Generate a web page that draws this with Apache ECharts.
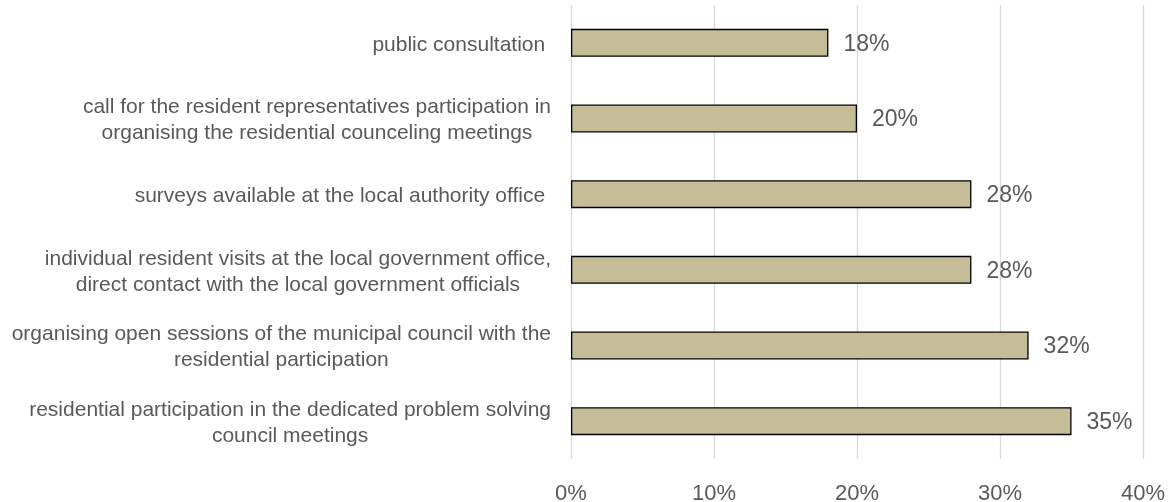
<!DOCTYPE html>
<html>
<head>
<meta charset="utf-8">
<script src="https://cdn.jsdelivr.net/npm/echarts@6/dist/echarts.min.js"></script>
<style>
html,body{margin:0;padding:0;background:#fff;}
#chart{width:1169px;height:502px;}
</style>
</head>
<body>
<div id="chart"></div>
<script>
const categories = [
  "public consultation ",
  "call for the resident representatives participation in\norganising the residential counceling meetings",
  "surveys available at the local authority office ",
  "individual resident visits at the local government office,\ndirect contact with the local government officials",
  "organising open sessions of the municipal council with the\nresidential participation",
  "residential participation in the dedicated problem solving\ncouncil meetings"
];
const values = [18, 20, 28, 28, 32, 35];
const xTicks = { min: 0, max: 40, interval: 10 };

const chart = echarts.init(document.getElementById('chart'));
const FONT = '"Liberation Sans", Arial, sans-serif';
chart.setOption({
  animation: false,
  grid: { left: 571, right: 26, top: 5, bottom: 43, containLabel: false, outerBoundsMode: 'none' },
  xAxis: {
    type: 'value',
    min: xTicks.min, max: xTicks.max, interval: xTicks.interval,
    axisLine: { show: false },
    axisTick: { show: false },
    splitLine: { show: true, lineStyle: { color: '#d9d9d9', width: 1.3 } },
    axisLabel: {
      formatter: '{value}%',
      fontFamily: FONT, fontSize: 22, color: '#595959', margin: 24
    }
  },
  yAxis: {
    type: 'category',
    data: categories,
    inverse: true,
    axisLine: { show: false },
    axisTick: { show: false },
    axisLabel: {
      interval: 0,
      margin: 20,
      align: 'right',
      padding: [4, 0, 0, 0],
      fontFamily: FONT, fontSize: 21, color: '#595959', lineHeight: 26,
      formatter: function (v) {
        return v.split('\n').map(function (l) { return '{c|' + l + '}'; }).join('\n');
      },
      rich: {
        c: { align: 'center', fontFamily: FONT, fontSize: 21, color: '#595959', lineHeight: 26 }
      }
    }
  },
  series: [{
    type: 'bar',
    data: values,
    barWidth: 28,
    itemStyle: { color: '#C4BD97', borderColor: '#000000', borderWidth: 1.3 },
    label: {
      show: true, position: 'right', distance: 15, offset: [0, 1.5],
      formatter: '{c}%',
      fontFamily: FONT, fontSize: 23, color: '#595959'
    }
  }]
});
</script>
</body>
</html>
